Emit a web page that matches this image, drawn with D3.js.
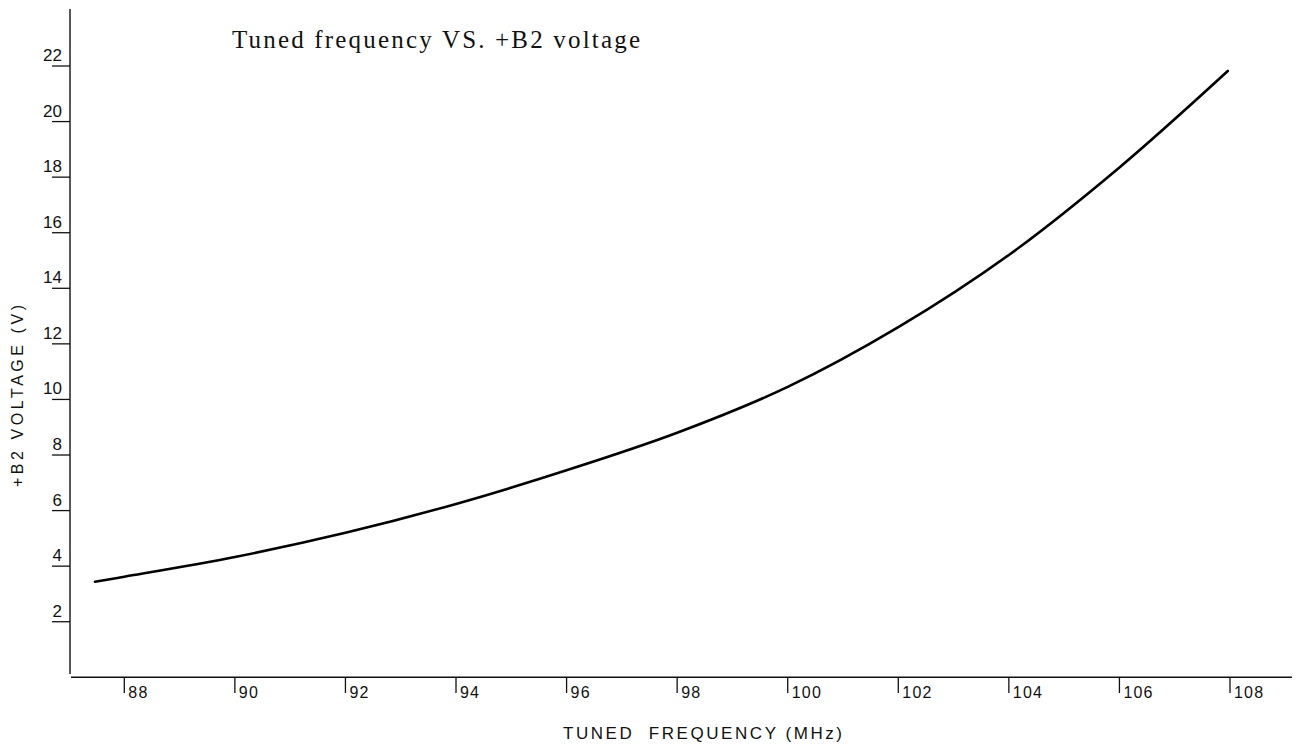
<!DOCTYPE html>
<html>
<head>
<meta charset="utf-8">
<script src="https://cdn.jsdelivr.net/npm/d3@7"></script>
<style>
  html, body { margin: 0; padding: 0; background: #fff; }
  svg { display: block; }
</style>
</head>
<body>
<svg id="chart" width="1302" height="745"></svg>
<script>
// ---- data ----
const frequencies = [87.47, 88, 90, 92, 94, 96, 98, 100, 102, 104, 106, 107.96];
const voltages    = [3.44, 3.62, 4.33, 5.20, 6.24, 7.45, 8.80, 10.45, 12.60, 15.20, 18.35, 21.82];
const xTicks = [88, 90, 92, 94, 96, 98, 100, 102, 104, 106, 108];
const yTicks = [2, 4, 6, 8, 10, 12, 14, 16, 18, 20, 22];
const titleText = "Tuned frequency VS. +B2 voltage";
const xLabel = "TUNED  FREQUENCY (MHz)";
const yLabel = "+B2 VOLTAGE (V)";

// ---- layout ----
const svg = d3.select("#chart");
const axisX = 70, axisY = 677.3;
const x = d3.scaleLinear().domain([88, 108]).range([124.3, 1230]);
const y = d3.scaleLinear().domain([0, 22]).range([axisY, 66]);

const ink = "#111";
const sansFont = "'Liberation Sans', Arial, sans-serif";

// y axis line
svg.append("line")
  .attr("x1", axisX).attr("x2", axisX)
  .attr("y1", 9).attr("y2", 674)
  .attr("stroke", ink).attr("stroke-width", 1.4);

// x axis line
svg.append("line")
  .attr("x1", 71).attr("x2", 1292)
  .attr("y1", axisY).attr("y2", axisY)
  .attr("stroke", ink).attr("stroke-width", 1.4);

// y ticks (underline style, label above)
const yt = svg.append("g").selectAll("g").data(yTicks).join("g");
yt.append("line")
  .attr("x1", 52).attr("x2", axisX)
  .attr("y1", d => y(d)).attr("y2", d => y(d))
  .attr("stroke", ink).attr("stroke-width", 1.3);
yt.append("text")
  .attr("x", 62).attr("y", d => y(d) - 5)
  .attr("text-anchor", "end")
  .attr("font-family", sansFont)
  .attr("font-size", 17)
  .attr("fill", ink)
  .text(d => d);

// x ticks (down, label at right)
const xt = svg.append("g").selectAll("g").data(xTicks).join("g");
xt.append("line")
  .attr("x1", d => x(d)).attr("x2", d => x(d))
  .attr("y1", axisY).attr("y2", 693)
  .attr("stroke", ink).attr("stroke-width", 1.3);
xt.append("text")
  .attr("x", d => x(d) + 4).attr("y", 698)
  .attr("font-family", sansFont)
  .attr("font-size", 16)
  .attr("letter-spacing", 1.2)
  .attr("fill", ink)
  .text(d => d);

// curve
const pts = frequencies.map((f, i) => [f, voltages[i]]);
const line = d3.line()
  .x(d => x(d[0])).y(d => y(d[1]))
  .curve(d3.curveCatmullRom.alpha(0.5));
svg.append("path")
  .datum(pts)
  .attr("d", line)
  .attr("fill", "none")
  .attr("stroke", "#000")
  .attr("stroke-width", 2.6)
  .attr("stroke-linecap", "round");

// title
svg.append("text")
  .attr("x", 232).attr("y", 48)
  .attr("font-family", "'Liberation Serif', 'Times New Roman', serif")
  .attr("font-size", 25)
  .attr("textLength", 408)
  .attr("lengthAdjust", "spacing")
  .attr("fill", ink)
  .text(titleText);

// x label
svg.append("text")
  .attr("x", 563).attr("y", 739)
  .attr("font-family", sansFont)
  .attr("font-size", 17)
  .attr("textLength", 279)
  .attr("lengthAdjust", "spacing")
  .attr("fill", ink)
  .style("white-space", "pre")
  .text(xLabel);

// y label
svg.append("text")
  .attr("transform", "translate(23, 487) rotate(-90)")
  .attr("x", 0).attr("y", 0)
  .attr("font-family", sansFont)
  .attr("font-size", 16)
  .attr("textLength", 182)
  .attr("lengthAdjust", "spacing")
  .attr("fill", ink)
  .text(yLabel);
</script>
</body>
</html>
